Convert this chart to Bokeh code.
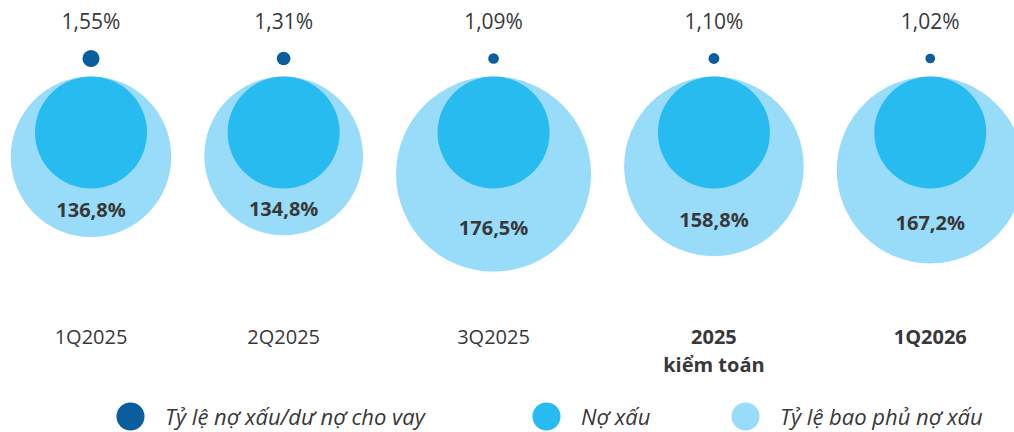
from bokeh.plotting import figure
from bokeh.models import Range1d, ColumnDataSource, Legend, LegendItem
from bokeh.core.properties import value
from bokeh.embed import file_html
from bokeh.resources import INLINE

# ---------------- data ----------------
categories = ["1Q2025", "2Q2025", "3Q2025", "2025\nkiểm toán", "1Q2026"]
npl_ratio = [1.55, 1.31, 1.09, 1.10, 1.02]          # Tỷ lệ nợ xấu/dư nợ cho vay (%)
coverage_ratio = [136.8, 134.8, 176.5, 158.8, 167.2]  # Tỷ lệ bao phủ nợ xấu (%)

legend_labels = ["Tỷ lệ nợ xấu/dư nợ cho vay", "Nợ xấu", "Tỷ lệ bao phủ nợ xấu"]

# ---------------- style ----------------
C_DARK = "#0a5e9e"
C_MID = "#27bbf0"
C_LIGHT = "#99dcfa"
C_TEXT = "#383838"
FONT = "Open Sans"
cat_styles = ["normal", "normal", "normal", "bold", "bold"]

W, H = 1014, 432
TOP = 76          # common top edge of the circles
INNER_R = 56      # Nợ xấu reference circle radius (px)
GAP = 33          # gap between neighbouring coverage circles


def fmt(v, d):
    return f"{v:.{d}f}".replace(".", ",") + "%"


cov_r = [20.66 + 0.4356 * v for v in coverage_ratio]
dot_r = [7.0 * v - 2.3 for v in npl_ratio]

# pack the circles side by side
xs = [90.5]
for i in range(1, len(categories)):
    xs.append(xs[-1] + cov_r[i - 1] + GAP + cov_r[i])

src = ColumnDataSource(dict(
    x=xs,
    cat=categories,
    cat_style=cat_styles,
    big_y=[TOP + r for r in cov_r],
    big_size=[2 * r for r in cov_r],
    inner_y=[TOP + INNER_R] * len(xs),
    inner_size=[2 * INNER_R] * len(xs),
    dot_y=[58] * len(xs),
    dot_size=[2 * r for r in dot_r],
    npl_lbl=[fmt(v, 2) for v in npl_ratio],
    npl_lbl_y=[20] * len(xs),
    cov_lbl=[fmt(v, 1) for v in coverage_ratio],
    cov_lbl_y=[TOP + r + 53 for r in cov_r],
    cat_y=[322] * len(xs),
))

p = figure(width=W, height=H, x_range=Range1d(0, W), y_range=Range1d(H, 0),
           output_backend="svg", toolbar_location=None,
           x_axis_location=None, y_axis_location=None, min_border=0)
p.grid.visible = False
p.outline_line_color = None
p.background_fill_color = "white"

r_big = p.scatter("x", "big_y", size="big_size", source=src, fill_color=C_LIGHT, line_color=None)
r_mid = p.scatter("x", "inner_y", size="inner_size", source=src, fill_color=C_MID, line_color=None)
r_dot = p.scatter("x", "dot_y", size="dot_size", source=src, fill_color=C_DARK, line_color=None)

p.text("x", "npl_lbl_y", text="npl_lbl", source=src, text_align="center", text_baseline="middle",
       text_font=value(FONT), text_font_size="21px", text_color=C_TEXT)
p.text("x", "cov_lbl_y", text="cov_lbl", source=src, text_align="center", text_baseline="middle",
       text_font=value(FONT), text_font_size="20px", text_font_style="bold", text_color=C_TEXT)
p.text("x", "cat_y", text="cat", source=src, text_align="center", text_baseline="top",
       text_font=value(FONT), text_font_size="20px", text_font_style="cat_style",
       text_color=C_TEXT, text_line_height=1.05)

# legends (one per item so each can sit where the reference puts it)
leg_x = [95, 511, 710]
for lbl, rend, lx in zip(legend_labels, [r_dot, r_mid, r_big], leg_x):
    leg = Legend(items=[LegendItem(label=lbl, renderers=[rend], index=0)],
                 location=(lx, -19), orientation="horizontal",
                 glyph_width=70, glyph_height=70, label_standoff=0, padding=0, margin=0,
                 border_line_color=None, background_fill_alpha=0,
                 label_text_font=FONT, label_text_font_style="italic",
                 label_text_font_size="22px", label_text_color=C_TEXT)
    p.add_layout(leg)

open("out.html", "w").write(file_html(p, INLINE))
